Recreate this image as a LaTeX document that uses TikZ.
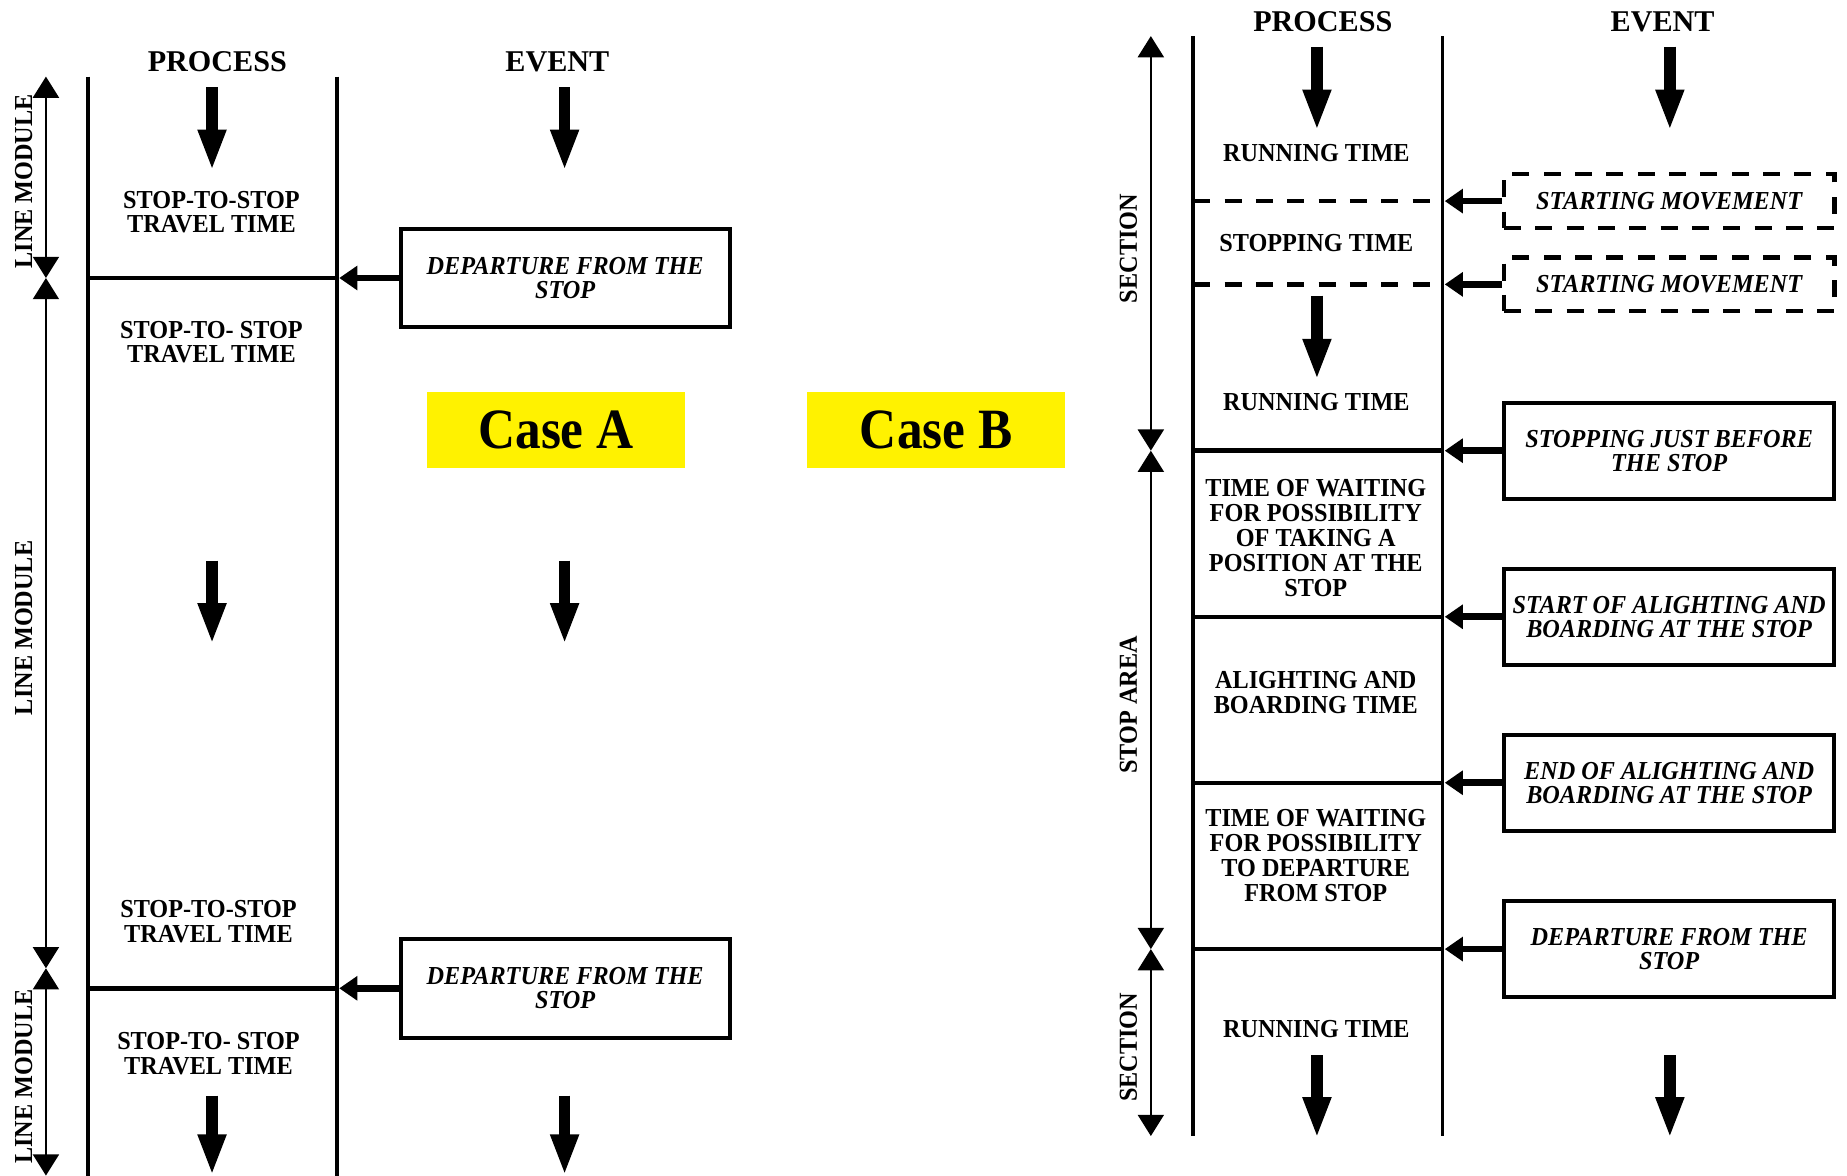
\documentclass[tikz,border=0pt]{standalone}
\usepackage{fontspec}
\setmainfont{Liberation Serif}
\newfontfamily\narrowserif[FakeStretch=0.935]{Liberation Serif}
\newfontfamily\caseserif[FakeStretch=0.9]{Liberation Serif}
\usetikzlibrary{arrows.meta}

\tikzset{
  hdr/.style={inner sep=0pt, font=\bfseries\fontsize{12.8}{14}\selectfont},
  proctext/.style={inner sep=0pt, align=center,
    font=\narrowserif\bfseries\fontsize{11}{10.5}\selectfont},
  sidelabel/.style={inner sep=0pt, rotate=90,
    font=\narrowserif\bfseries\fontsize{11}{12}\selectfont},
  evbox/.style={draw, line width=1.7pt, inner sep=0pt, align=center,
    minimum width=140.3pt, minimum height=40.8pt,
    font=\narrowserif\bfseries\itshape\fontsize{11}{10.3}\selectfont},
  evboxA/.style={evbox, minimum width=139.5pt, minimum height=41.8pt},
  dashbox/.style={evbox, minimum height=22.75pt, line width=1.85pt,
    dash pattern=on 7.2pt off 6.1pt},
  lane/.style={line width=1.6pt},
  divider/.style={line width=1.9pt},
  dashdivider/.style={line width=1.85pt, dash pattern=on 7.2pt off 6.1pt},
  spanarrow/.style={line width=1pt,
    {Triangle[length=9pt,width=11pt]}-{Triangle[length=9pt,width=11pt]}},
  flowarrow/.style={line width=5pt, -{Triangle[length=17.5pt,width=11pt]}},
  trigarrow/.style={line width=2.8pt, -{Triangle[length=7.7pt,width=10pt]}},
  casebox/.style={fill=yellow, inner sep=0pt, minimum width=109.5pt,
    minimum height=32pt, font=\caseserif\bfseries\fontsize{24.2}{28}\selectfont}
}

\begin{document}
\begin{tikzpicture}[x=0.5pt,y=-0.5pt]
\useasboundingbox (0,0) rectangle (1568,998);

% ---------------- Case A ----------------
\node[hdr] (pA) at (184.5,52.4) {PROCESS};
\node[hdr] (eA) at (473.2,52.4) {EVENT};

% process lane
\coordinate (AL0) at (74.5,65);  \coordinate (AL1) at (74.5,998);
\coordinate (AR0) at (286,65);   \coordinate (AR1) at (286,998);
\draw[lane] (AL0) -- (AL1);
\draw[lane] (AR0) -- (AR1);
\coordinate (ARt) at (288,0);

% line module spans
\coordinate (AS0) at (39,65);  \coordinate (AS1) at (39,236);
\coordinate (AS2) at (39,822); \coordinate (AS3) at (39,998);
\draw[spanarrow] (AS0) -- (AS1);
\draw[spanarrow] (AS1) -- (AS2);
\draw[spanarrow] (AS2) -- (AS3);
\node[sidelabel] (mA1) at (20,154) {LINE MODULE};
\node[sidelabel] (mA2) at (20,533) {LINE MODULE};
\node[sidelabel] (mA3) at (20,914) {LINE MODULE};

% dividers at the stops
\coordinate (AD1l) at (74.5,236); \coordinate (AD1r) at (286,236);
\coordinate (AD2l) at (74.5,839); \coordinate (AD2r) at (286,839);
\draw[divider] (AD1l) -- (AD1r);
\draw[divider] (AD2l) -- (AD2r);

% process texts
\node[proctext] (tA1) at (179.5,180) {STOP-TO-STOP\\TRAVEL TIME};
\node[proctext] (tA2) at (179.5,290.5) {STOP-TO- STOP\\TRAVEL TIME};
\node[proctext] (tA3) at (177,782.5) {STOP-TO-STOP\\TRAVEL TIME};
\node[proctext] (tA4) at (177,894.5) {STOP-TO- STOP\\TRAVEL TIME};

% flow arrows
\coordinate (fA1a) at (180,74);  \coordinate (fA1b) at (180,145);
\coordinate (fA2a) at (479.3,74); \coordinate (fA2b) at (479.3,145);
\coordinate (fA3a) at (180,476); \coordinate (fA3b) at (180,547);
\coordinate (fA4a) at (479.3,476); \coordinate (fA4b) at (479.3,547);
\coordinate (fA5a) at (180,930); \coordinate (fA5b) at (180,998);
\coordinate (fA6a) at (479.3,930); \coordinate (fA6b) at (479.3,998);
\draw[flowarrow] (fA1a) -- (fA1b);
\draw[flowarrow] (fA2a) -- (fA2b);
\draw[flowarrow] (fA3a) -- (fA3b);
\draw[flowarrow] (fA4a) -- (fA4b);
\draw[flowarrow] (fA5a) -- (fA5b);
\draw[flowarrow] (fA6a) -- (fA6b);

% events
\node[evboxA] (dA1) at (479.8,236) {DEPARTURE FROM THE\\STOP};
\node[evboxA] (dA2) at (479.8,839) {DEPARTURE FROM THE\\STOP};
\draw[trigarrow] (dA1.west) -- (dA1.west -| ARt);
\draw[trigarrow] (dA2.west) -- (dA2.west -| ARt);

% case labels
\node[casebox] (cA) at (472,365) {Case A};
\node[casebox] (cB) at (794.8,365) {Case B};

% ---------------- Case B ----------------
\node[hdr] (pB) at (1123,18.5) {PROCESS};
\node[hdr] (eB) at (1411.5,18.5) {EVENT};

\coordinate (BL0) at (1013,30.6);   \coordinate (BL1) at (1013,964.4);
\coordinate (BR0) at (1224.5,30.6); \coordinate (BR1) at (1224.5,964.4);
\draw[lane] (BL0) -- (BL1);
\draw[lane] (BR0) -- (BR1);
\coordinate (BRt) at (1226.5,0);

% section / stop area spans
\coordinate (BS0) at (977,30.6);  \coordinate (BS1) at (977,382.6);
\coordinate (BS2) at (977,805.7); \coordinate (BS3) at (977,964.4);
\draw[spanarrow] (BS0) -- (BS1);
\draw[spanarrow] (BS1) -- (BS2);
\draw[spanarrow] (BS2) -- (BS3);
\node[sidelabel] (sB1) at (958,211) {SECTION};
\node[sidelabel] (sB2) at (958,598.5) {STOP AREA};
\node[sidelabel] (sB3) at (958,889) {SECTION};

% dividers
\coordinate (BD1l) at (1013,170.7); \coordinate (BD1r) at (1224.5,170.7);
\coordinate (BD2l) at (1013,241.4); \coordinate (BD2r) at (1224.5,241.4);
\coordinate (BD3l) at (1013,382.6); \coordinate (BD3r) at (1224.5,382.6);
\coordinate (BD4l) at (1013,523.6); \coordinate (BD4r) at (1224.5,523.6);
\coordinate (BD5l) at (1013,664.5); \coordinate (BD5r) at (1224.5,664.5);
\coordinate (BD6l) at (1013,805.7); \coordinate (BD6r) at (1224.5,805.7);
\draw[dashdivider] (BD1l) -- (BD1r);
\draw[dashdivider] (BD2l) -- (BD2r);
\draw[divider] (BD3l) -- (BD3r);
\draw[divider] (BD4l) -- (BD4r);
\draw[divider] (BD5l) -- (BD5r);
\draw[divider] (BD6l) -- (BD6r);

% process texts
\node[proctext] (tB1) at (1117.5,129.8) {RUNNING TIME};
\node[proctext] (tB2) at (1117.5,206) {STOPPING TIME};
\node[proctext] (tB3) at (1117.5,341) {RUNNING TIME};
\node[proctext, font=\narrowserif\bfseries\fontsize{11}{10.6}\selectfont] (tB4) at (1117,457)
  {TIME OF WAITING\\FOR POSSIBILITY\\OF TAKING A\\POSITION AT THE\\STOP};
\node[proctext, font=\narrowserif\bfseries\fontsize{11}{10.6}\selectfont] (tB5) at (1117,588)
  {ALIGHTING AND\\BOARDING TIME};
\node[proctext, font=\narrowserif\bfseries\fontsize{11}{10.6}\selectfont] (tB6) at (1117,726)
  {TIME OF WAITING\\FOR POSSIBILITY\\TO DEPARTURE\\FROM STOP};
\node[proctext] (tB7) at (1117.5,874) {RUNNING TIME};

% flow arrows
\coordinate (fB1a) at (1118,39.6);   \coordinate (fB1b) at (1118,111);
\coordinate (fB2a) at (1417.6,39.6); \coordinate (fB2b) at (1417.6,111);
\coordinate (fB3a) at (1118,251);    \coordinate (fB3b) at (1118,322.6);
\coordinate (fB4a) at (1118,896);    \coordinate (fB4b) at (1118,966.4);
\coordinate (fB5a) at (1417.6,896);  \coordinate (fB5b) at (1417.6,966.4);
\draw[flowarrow] (fB1a) -- (fB1b);
\draw[flowarrow] (fB2a) -- (fB2b);
\draw[flowarrow] (fB3a) -- (fB3b);
\draw[flowarrow] (fB4a) -- (fB4b);
\draw[flowarrow] (fB5a) -- (fB5b);

% events
\node[dashbox] (sm1) at (1417,170.7) {STARTING MOVEMENT};
\node[dashbox] (sm2) at (1417,241.4) {STARTING MOVEMENT};
\node[evbox] (eB1) at (1417,382.6) {STOPPING JUST BEFORE\\THE STOP};
\node[evbox] (eB2) at (1417,523.6) {START OF ALIGHTING AND\\BOARDING AT THE STOP};
\node[evbox] (eB3) at (1417,664.5) {END OF ALIGHTING AND\\BOARDING AT THE STOP};
\node[evbox] (eB4) at (1417,805.7) {DEPARTURE FROM THE\\STOP};
\draw[trigarrow] (sm1.west) -- (sm1.west -| BRt);
\draw[trigarrow] (sm2.west) -- (sm2.west -| BRt);
\draw[trigarrow] (eB1.west) -- (eB1.west -| BRt);
\draw[trigarrow] (eB2.west) -- (eB2.west -| BRt);
\draw[trigarrow] (eB3.west) -- (eB3.west -| BRt);
\draw[trigarrow] (eB4.west) -- (eB4.west -| BRt);
\end{tikzpicture}
\end{document}
